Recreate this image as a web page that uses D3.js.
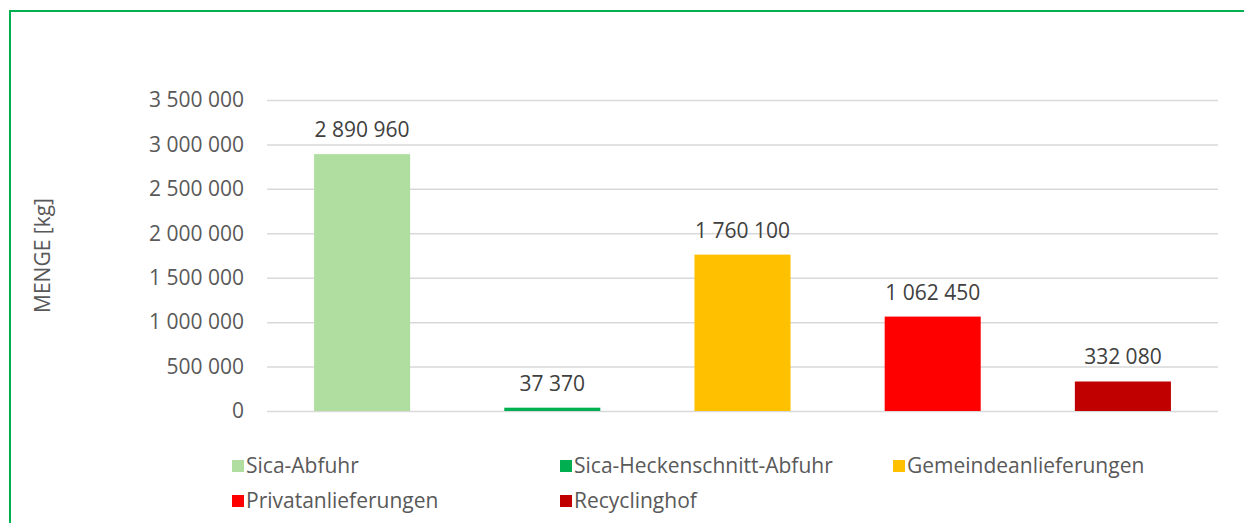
<!DOCTYPE html>
<html><head><meta charset="utf-8">
<script src="https://cdn.jsdelivr.net/npm/d3@7"></script>
<style>body{margin:0;background:#fff;}svg{display:block;font-family:"Open Sans",sans-serif;}</style>
</head><body>
<svg id="chart" width="1244" height="523"></svg>
<script>
const categories = ["Sica-Abfuhr","Sica-Heckenschnitt-Abfuhr","Gemeindeanlieferungen","Privatanlieferungen","Recyclinghof"];
const values = [2890960, 37370, 1760100, 1062450, 332080];
const colors = ["#b0dea0","#00b050","#ffc000","#ff0000","#c00000"];
const yTicks = [0,500000,1000000,1500000,2000000,2500000,3000000,3500000];
const yTitle = "MENGE [kg]";

const fmt = v => d3.format(",")(v).replace(/,/g, " ");
const svg = d3.select("#chart");
const plot = {left: 267, right: 1218, top: 100, bottom: 411};

svg.append("rect").attr("x",10).attr("y",11).attr("width",1240).attr("height",520)
  .attr("fill","none").attr("stroke","#00b050").attr("stroke-width",2);

const x = d3.scaleBand().domain(categories).range([plot.left, plot.right]).paddingInner(0.495).paddingOuter(0.2475);
const y = d3.scaleLinear().domain([0,3500000]).range([plot.bottom, plot.top]);

const yAxis = d3.axisLeft(y).tickValues(yTicks).tickFormat(fmt).tickSize(-(plot.right-plot.left)).tickPadding(23);
const gy = svg.append("g").attr("transform",`translate(${plot.left},0)`).call(yAxis);
gy.select(".domain").remove();
gy.selectAll(".tick line").attr("stroke","#d9d9d9").attr("stroke-width",1.5);
gy.selectAll(".tick text").attr("fill","#595959").style("font-size","21px").style("font-family","Open Sans");

svg.append("g").selectAll("rect").data(values).join("rect")
  .attr("x",(d,i)=>x(categories[i])).attr("width",x.bandwidth())
  .attr("y",d=>y(d)).attr("height",d=>y(0)-y(d)).attr("fill",(d,i)=>colors[i]);

svg.append("g").selectAll("text").data(values).join("text")
  .attr("x",(d,i)=>x(categories[i])+x.bandwidth()/2).attr("y",d=>y(d)-17)
  .attr("text-anchor","middle").attr("fill","#404040").style("font-size","21px").text(fmt);

svg.append("text").attr("transform",`translate(50,${(plot.top+plot.bottom)/2}) rotate(-90)`)
  .attr("text-anchor","middle").attr("fill","#595959").style("font-size","21px").text(yTitle);

const legX = [232, 560, 893];
const legY = [466, 501];
const lg = svg.append("g").selectAll("g").data(categories).join("g")
  .attr("transform",(d,i)=>`translate(${legX[i%3]},${legY[Math.floor(i/3)]})`);
lg.append("rect").attr("x",0).attr("y",-6).attr("width",12).attr("height",12).attr("fill",(d,i)=>colors[i]);
lg.append("text").attr("x",14).attr("y",7).attr("fill","#595959").style("font-size","21px").text(d=>d);
</script>
</body></html>
